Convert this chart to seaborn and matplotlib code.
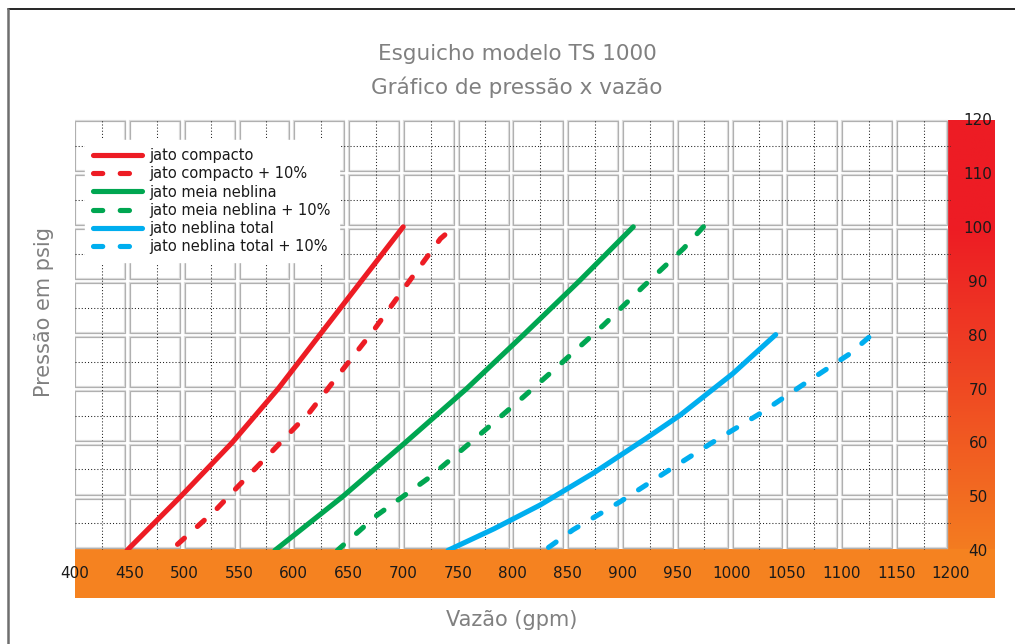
import numpy as np
import pandas as pd
import seaborn as sns
import matplotlib
matplotlib.use("Agg")
import matplotlib.pyplot as plt
from matplotlib.patches import Rectangle
from matplotlib.lines import Line2D
from matplotlib.colors import LinearSegmentedColormap

# ---------------- data ----------------
title_lines = ["Esguicho modelo TS 1000", "Gráfico de pressão x vazão"]
x_label = "Vazão (gpm)"
y_label = "Pressão em psig"
x_ticks = list(range(400, 1201, 50))
y_ticks = list(range(40, 121, 10))

series_names = ["jato compacto", "jato compacto + 10%", "jato meia neblina",
                "jato meia neblina + 10%", "jato neblina total", "jato neblina total + 10%"]

compacto_q = [448, 497, 544, 586, 624, 662, 700]
compacto_p = [40, 50, 60, 70, 80, 90, 100]

compacto10_q = [488, 529, 549, 581.5, 615, 642, 673, 703, 734, 738]
compacto10_p = [40, 47.5, 51.8, 58.6, 65.7, 72.8, 80.8, 89.2, 97.8, 98.5]

meia_q = [583, 645, 702, 758, 810, 861, 910]
meia_p = [40, 50, 60, 70, 80, 90, 100]

meia10_q = [640, 676, 724.5, 773, 810, 846, 883, 919, 956, 974]
meia10_p = [40, 46.5, 53.6, 62, 68.5, 75, 81.8, 88.9, 96, 100]

total_q = [741, 783, 825, 873.5, 922, 953, 1001, 1040]
total_p = [40, 44, 48.4, 54.3, 60.8, 65.1, 72.8, 80]

total10_q = [832.5, 855, 898, 940.5, 983, 1026, 1067, 1108, 1125]
total10_p = [40.5, 43.8, 49, 54.6, 60.1, 65.4, 71, 76.5, 79.5]

series_q = [compacto_q, compacto10_q, meia_q, meia10_q, total_q, total10_q]
series_p = [compacto_p, compacto10_p, meia_p, meia10_p, total_p, total10_p]
series_colors = ["#ED1C24", "#ED1C24", "#00A651", "#00A651", "#00AEEF", "#00AEEF"]
series_dashed = [False, True, False, True, False, True]

# ---------------- figure ----------------
sns.set_theme(style="white")
plt.rcParams["font.family"] = ["DejaVu Sans"]

W, H = 1015, 644
fig = plt.figure(figsize=(W / 100, H / 100), dpi=100)
fig.patch.set_facecolor("white")


def fx(px):
    return px / W


def fy(py):
    return 1 - py / H


# outer frame (top & left edges visible)
fig.add_artist(Line2D([fx(8), 1.0], [fy(9), fy(9)], transform=fig.transFigure,
                      color="black", lw=1.2))
fig.add_artist(Line2D([fx(8), fx(8)], [fy(9), 0.0], transform=fig.transFigure,
                      color="#6e6e6e", lw=1.8))

# orange band under the x axis
fig.add_artist(Rectangle((fx(75), fy(598)), fx(995) - fx(75), fy(549) - fy(598),
                         transform=fig.transFigure, facecolor="#F58220",
                         edgecolor="none", zorder=0.3))

# gradient band on the right
gax = fig.add_axes([fx(948), fy(549), fx(995) - fx(948), fy(120) - fy(549)], zorder=0.5)
cmap = LinearSegmentedColormap.from_list(
    "rg", [(0, "#ED1C24"), (0.25, "#ED1C24"), (0.6, "#EF4623"), (1, "#F47C20")])
gax.imshow(np.linspace(0, 1, 256)[:, None], aspect="auto", cmap=cmap,
           extent=[0, 1, 0, 1])
gax.set_axis_off()

# main axes
ax = fig.add_axes([fx(74.5), fy(550.3), fx(951) - fx(74.5), fy(119) - fy(550.3)], zorder=1)
ax.patch.set_alpha(0)
ax.set_xlim(400, 1200)
ax.set_ylim(40, 120)
for s in ax.spines.values():
    s.set_visible(False)

# cells
for x0 in x_ticks[:-1]:
    for y0 in y_ticks[:-1]:
        ax.add_patch(Rectangle((x0 + 0.6, y0 + 0.35), 45.6, 9.2, facecolor="white",
                               edgecolor="#dddddd", lw=1.6, zorder=1))
        ax.add_patch(Rectangle((x0 + 0.6, y0 + 0.35), 45.6, 9.2, facecolor="none",
                               edgecolor="#b0b0b0", lw=0.8, zorder=1.1))

# dotted midlines
for xm in np.arange(425, 1200, 50):
    ax.axvline(xm, color="#222222", lw=0.75, ls=(0, (1, 2)), zorder=1.5)
for ym in np.arange(45, 120, 10):
    ax.axhline(ym, color="#222222", lw=0.75, ls=(0, (1, 2)), zorder=1.5)

# curves
handles = []
for name, q, p, c, dashed in zip(series_names, series_q, series_p, series_colors, series_dashed):
    df = pd.DataFrame({"q": q, "p": p})
    if dashed:
        df = df.iloc[::-1]  # start the dash pattern at the upper end
    n_before = len(ax.lines)
    sns.lineplot(data=df, x="q", y="p", ax=ax, color=c, lw=3.7, sort=False,
                 estimator=None, zorder=3)
    line = ax.lines[n_before]
    line.set_solid_capstyle("round")
    line.set_dash_capstyle("round")
    if dashed:
        line.set_dashes((1.8, 3.4))
    line.set_label(name)
    handles.append(line)

ax.set_xlabel("")
ax.set_ylabel("")

leg = ax.legend(handles=handles, loc="upper left", bbox_to_anchor=(0.012, 0.951),
                borderaxespad=0, fontsize=10.5, frameon=True, fancybox=False,
                framealpha=1, facecolor="white", edgecolor="white",
                handlelength=3.35, handletextpad=0.5, labelspacing=0.22,
                borderpad=0.55)
leg.set_zorder(5)
for t in leg.get_texts():
    t.set_color("#1a1a1a")

# ticks
ax.set_xticks(x_ticks)
ax.set_xticklabels([str(v) for v in x_ticks], fontsize=11, color="#1a1a1a")
ax.tick_params(axis="x", length=0, pad=11)
ax.yaxis.tick_right()
ax.set_yticks(y_ticks)
ax.set_yticklabels([str(v) for v in y_ticks], fontsize=11, color="#1a1a1a")
ax.tick_params(axis="y", length=0, pad=19.5)
for lab in ax.get_yticklabels():
    lab.set_ha("center")
ax.grid(False)

# titles and axis labels
fig.text(fx(517), fy(54), title_lines[0], ha="center", va="center", fontsize=15.5, color="#808080")
fig.text(fx(517), fy(87), title_lines[1], ha="center", va="center", fontsize=15.5, color="#808080")
fig.text(fx(511.5), fy(620), x_label, ha="center", va="center", fontsize=15, color="#808080")
fig.text(fx(44), fy(312), y_label, ha="center", va="center", rotation=90, fontsize=15, color="#808080")

fig.savefig("out.png", dpi=100)
